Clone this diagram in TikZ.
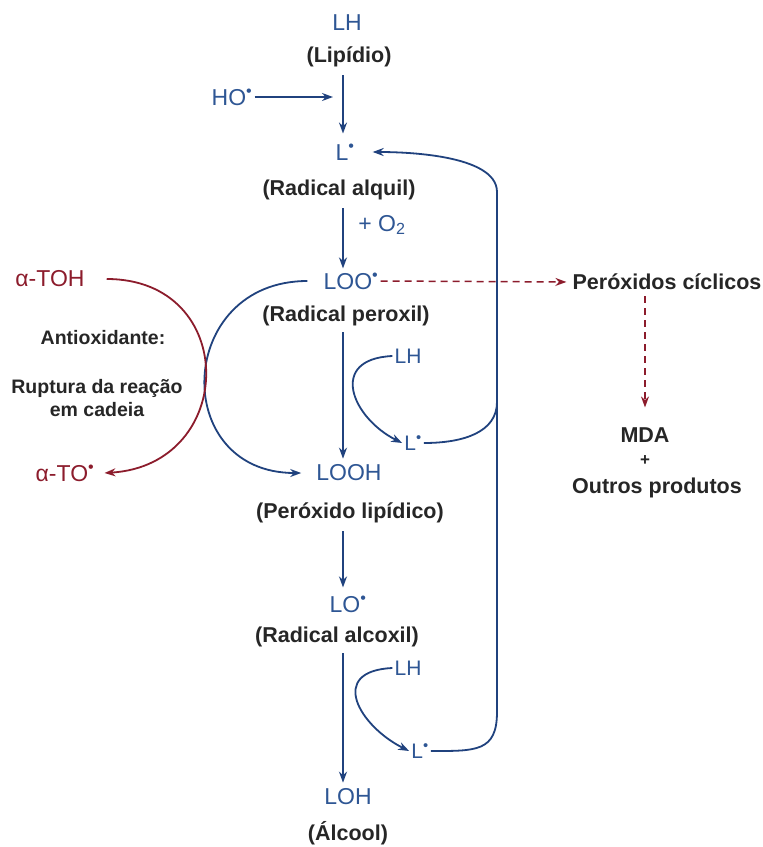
\documentclass[tikz,border=0pt]{standalone}
\usepackage{fontspec}
\setmainfont{Liberation Sans}
\usepackage{tikz}
\usetikzlibrary{arrows.meta}
\definecolor{spblue}{RGB}{46,86,148}
\definecolor{lnblue}{RGB}{32,66,126}
\definecolor{tored}{RGB}{140,28,44}
\definecolor{lbgray}{RGB}{38,38,38}
\newcommand{\rad}{\textsuperscript{\textbullet}}

\begin{document}
\begin{tikzpicture}[x=1pt,y=-1pt,
  spc/.style={inner sep=2pt,text=spblue,font=\fontsize{23}{27}\selectfont},
  smspc/.style={inner sep=2pt,text=spblue,font=\fontsize{21}{25}\selectfont},
  redspc/.style={inner sep=2pt,text=tored,font=\fontsize{23}{27}\selectfont},
  lbl/.style={inner sep=2pt,text=lbgray,font=\bfseries\fontsize{21.5}{25}\selectfont},
  smlbl/.style={inner sep=2pt,text=lbgray,align=center,font=\bfseries\fontsize{19.5}{23}\selectfont},
  arr/.style={draw=lnblue,line width=1.8pt,-{Stealth[length=11pt,width=8pt]}},
  ln/.style={draw=lnblue,line width=1.8pt},
  redarr/.style={draw=tored,line width=1.8pt,-{Stealth[length=11pt,width=8pt]}},
  dasharr/.style={draw=tored,line width=1.5pt,dash pattern=on 7pt off 5pt,-{Stealth[length=11pt,width=8pt]}}]
\path[use as bounding box] (0,0) rectangle (763,847);
\path[fill=white,draw=none] (0,0) rectangle (763,847);

% main chain
\coordinate (ax) at (343,0);
\node[spc] (LHtop) at (347,23) {LH};
\node[lbl] (lip) at (349,57) {(Lipídio)};
\node[spc] (HO) at (232,97) {HO\rad};
\coordinate (hoend) at (333,98);
\node[spc] (La) at (345,152) {L\rad};
\node[lbl] (alq) at (339,190) {(Radical alquil)};
\node[spc] (O2) at (382,225) {+ O\textsubscript{2}};
\node[spc] (LOO) at (351,281) {LOO\rad};
\node[lbl] (perox) at (346,316) {(Radical peroxil)};
\node[smspc] (LHa) at (408,356) {LH};
\node[smspc] (Lb) at (413,443) {L\rad};
\node[spc] (LOOH) at (349,473) {LOOH};
\node[lbl] (plip) at (350,513) {(Peróxido lipídico)};
\node[spc] (LO) at (348,604) {LO\rad};
\node[lbl] (alc) at (337,637) {(Radical alcoxil)};
\node[smspc] (LHc) at (408,668) {LH};
\node[smspc] (Ld) at (420,751) {L\rad};
\node[spc] (LOH) at (348,797) {LOH};
\node[lbl] (alcool) at (348,833) {(Álcool)};

% antioxidant
\node[redspc] (TOH) at (50,279) {α-TOH};
\node[redspc] (TO) at (65,473) {α-TO\rad};
\node[smlbl] (anti) at (103,338) {Antioxidante:};
\node[smlbl] (rupt) at (97,398) {Ruptura da reação\\em cadeia};

% side products
\node[lbl] (pc) at (667,282) {Peróxidos cíclicos};
\node[lbl] (mda) at (645,435) {MDA};
\node[lbl,font=\bfseries\fontsize{17}{19}\selectfont] (plus) at (645,461) {+};
\node[lbl] (outros) at (657,488) {Outros produtos};

% return loop
\coordinate (rtop) at (497,192);
\coordinate (rmid) at (497,402);
\coordinate (rbot) at (497,712);

\draw[arr,shorten <=6pt,shorten >=8pt] (lip.south -| ax) -- (La.north -| ax);
\draw[arr] (HO.east) -- (hoend |- HO.east);
\draw[arr,shorten <=6pt,shorten >=2pt] (alq.south -| ax) -- (LOO.north -| ax);
\draw[arr,shorten <=4pt,shorten >=4pt] (perox.south -| ax) -- (LOOH.north -| ax);
\draw[arr,shorten <=6pt,shorten >=6pt] (plip.south -| ax) -- (LO.north -| ax);
\draw[arr,shorten <=4pt,shorten >=4pt] (alc.south -| ax) -- (LOH.north -| ax);

\draw[arr] (LHa.west) .. controls +(-65,3) and +(-50,-25) .. (Lb.west);
\draw[arr] (LHc.west) .. controls +(-65,3) and +(-50,-25) .. (Ld.west);
\draw[ln] (Lb.east) .. controls +(40,0) and +(0,30) .. (rmid);
\draw[arr,shorten >=16pt] (Ld.east) .. controls +(45,0) and +(0,40) .. (rbot)
  -- (rtop) .. controls +(0,-38) and +(45,0) .. (La.east);

\draw[arr] ([xshift=-14pt]LOO.west) .. controls +(-132,0) and +(-132,0) .. ([xshift=-13pt]LOOH.west);
\draw[redarr] ([xshift=20pt]TOH.east) .. controls +(133,0) and +(133,-8) .. ([xshift=8pt]TO.east);

\draw[dasharr,shorten >=4pt] (LOO.east) -- (pc.west);
\draw[dasharr,shorten <=4pt,shorten >=18pt] (mda.north |- pc.south) -- (mda.north);
\end{tikzpicture}
\end{document}
